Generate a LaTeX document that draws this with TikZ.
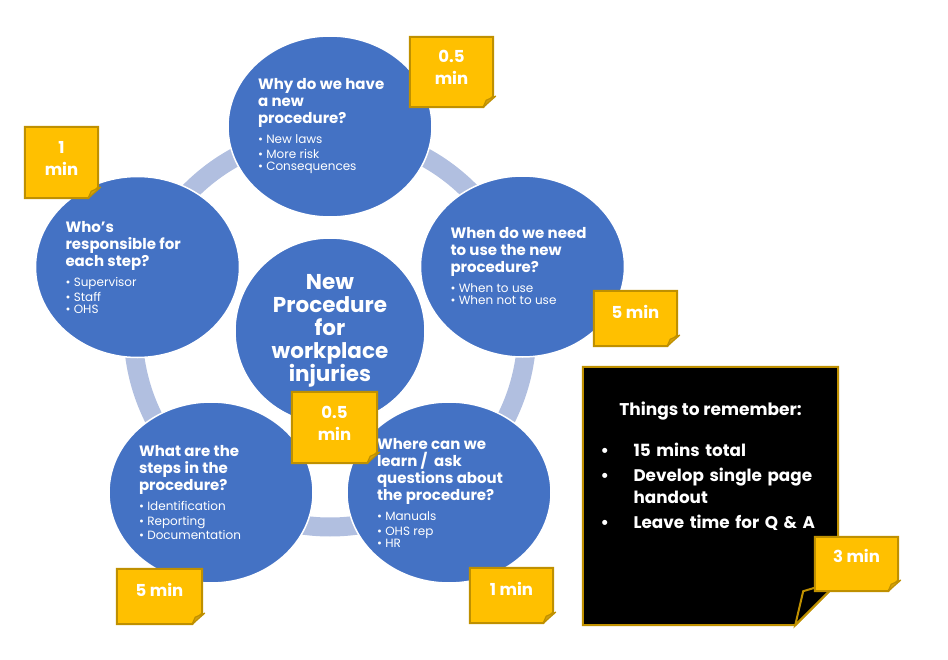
\documentclass[tikz,border=0pt]{standalone}
\usepackage{fontspec}
\setmainfont{Poppins}
\usetikzlibrary{shapes.geometric, positioning}
\pgfdeclarelayer{back}
\pgfdeclarelayer{mid}
\pgfsetlayers{back,mid,main}

\definecolor{circblue}{HTML}{4472C4}
\definecolor{ringblue}{HTML}{B1BFE0}
\definecolor{notefill}{HTML}{FFC000}
\definecolor{noteline}{HTML}{BF9000}
\definecolor{notecurl}{HTML}{D6A20B}

\newcommand{\hd}{\fontsize{15}{17}\selectfont\bfseries}
\newcommand{\bl}{\fontsize{12}{15}\selectfont\mdseries}
\newcommand{\remitem}{\par\hangindent=33pt\hangafter=1\noindent\makebox[33pt][l]{\textbullet}}

\begin{document}
\begin{tikzpicture}[x=1pt, y=-1pt,
        topic/.style={ellipse, fill=circblue, draw=white, line width=1.5pt, text=white, inner sep=0pt,
            minimum width=204pt, minimum height=181pt, text width=144pt, align=left},
        hub/.style={ellipse, fill=circblue, draw=white, line width=1.5pt, text=white, inner sep=0pt,
            minimum width=190pt, minimum height=186pt, align=center, font=\fontsize{21.5}{23}\selectfont\bfseries},
        ring/.style={draw=ringblue, line width=19pt},
        notebox/.style={rectangle, inner sep=0pt},
        noteedge/.style={fill=notefill, draw=noteline, line width=2pt},
        notecurlstyle/.style={fill=notecurl, draw=noteline, line width=1.2pt, line join=round},
        notetext/.style={text=white, align=center, font=\fontsize{16.5}{22}\selectfont\bfseries},
        boxedge/.style={fill=black, draw=noteline, line width=2pt},
        boxhead/.style={text=white, font=\fontsize{17}{20}\selectfont\bfseries},
        boxlist/.style={text=white, text width=236pt, align=left, font=\fontsize{16.8}{22}\selectfont\bfseries}
    ]

    \useasboundingbox (0,0) rectangle (948,660);

    \begin{pgfonlayer}{back}
        \draw[ring] (330,330) circle[radius=197];

        \node[topic] (why) at (330,126.5) {\hd Why do we have\\a new\\procedure?\par\vspace{5pt}
            \bl\textbullet\ New laws\\\textbullet\ More risk\\\textbullet\ Consequences};
        \node[topic] (when) at (522.5,266.5) {\hd When do we need\\to use the new\\procedure?\par\vspace{5pt}
            \bl\textbullet\ When to use\\\textbullet\ When not to use};
        \node[topic] (where) at (449,492.5) {\hd Where can we\\learn /\ \ ask\\questions about\\the procedure?\par\vspace{5pt}
            \bl\textbullet\ Manuals\\\textbullet\ OHS rep\\\textbullet\ HR};
        \node[topic] (steps) at (211,492.5) {\hd What are the\\steps in the\\procedure?\par\vspace{5pt}
            \bl\textbullet\ Identification\\\textbullet\ Reporting\\\textbullet\ Documentation};
        \node[topic] (who) at (137.5,267) {\hd Who's\\responsible for\\each step?\par\vspace{5pt}
            \bl\textbullet\ Supervisor\\\textbullet\ Staff\\\textbullet\ OHS};

        \node[hub] (hub) at (330,331) {New\\Procedure\\for\\workplace\\injuries};
    \end{pgfonlayer}

    \begin{pgfonlayer}{mid}
        % reminder sheet
        \node[notebox, minimum width=255pt, minimum height=258pt] (remember) at (710.5,496) {};
        \draw[boxedge] (remember.north west) -- (remember.north east) -- ([yshift=43pt]remember.south east)
            -- ([xshift=-43pt]remember.south east) -- (remember.south west) -- cycle;
        \draw[boxedge] ([xshift=-43pt]remember.south east) -- ([xshift=-35pt,yshift=34pt]remember.south east)
            -- ([xshift=2pt,yshift=45pt]remember.south east) -- cycle;

        % sticky notes
        \node[notebox, minimum width=83pt, minimum height=70pt] (note_why) at (451.5,72) {};
        \node[notebox, minimum width=73pt, minimum height=71pt] (note_who) at (61.5,162.5) {};
        \node[notebox, minimum width=83pt, minimum height=55pt] (note_when) at (635.5,318.5) {};
        \node[notebox, minimum width=85pt, minimum height=71pt] (note_hub) at (334.5,427.5) {};
        \node[notebox, minimum width=85pt, minimum height=55pt] (note_steps) at (159.5,596.5) {};
        \node[notebox, minimum width=83pt, minimum height=55pt] (note_where) at (511.5,595.5) {};
        \node[notebox, minimum width=83pt, minimum height=54pt] (note_total) at (856.5,564) {};

        \foreach \nt in {note_why, note_who, note_when, note_hub, note_steps, note_where, note_total} {
            \draw[noteedge] (\nt.north west) -- (\nt.north east) -- ([yshift=11pt]\nt.south east)
                -- ([xshift=-10pt]\nt.south east) -- (\nt.south west) -- cycle;
            \draw[notecurlstyle] ([xshift=-10pt]\nt.south east) -- ([xshift=2.5pt,yshift=11pt]\nt.south east)
                -- ([xshift=-7pt,yshift=7pt]\nt.south east) -- cycle;
        }
    \end{pgfonlayer}

    \node[notetext] (note_why_t) at ([yshift=5pt]note_why.center) {0.5\\min};
    \node[notetext] (note_who_t) at ([yshift=4pt]note_who.center) {1\\min};
    \node[notetext] (note_when_t) at ([yshift=7pt]note_when.center) {5 min};
    \node[notetext] (note_hub_t) at ([yshift=4pt]note_hub.center) {0.5\\min};
    \node[notetext] (note_steps_t) at ([yshift=7pt]note_steps.center) {5 min};
    \node[notetext] (note_where_t) at ([yshift=7pt]note_where.center) {1 min};
    \node[notetext] (note_total_t) at ([yshift=8pt]note_total.center) {3 min};

    \node[boxhead] (remember_head) at (710.5,411) {Things to remember:};
    \node[boxlist, anchor=base west] (remember_list) at (597,431) {\setlength{\parskip}{3pt}%
        \remitem 15 mins total
        \remitem Develop single page handout
        \remitem Leave time for Q \& A};

\end{tikzpicture}
\end{document}
